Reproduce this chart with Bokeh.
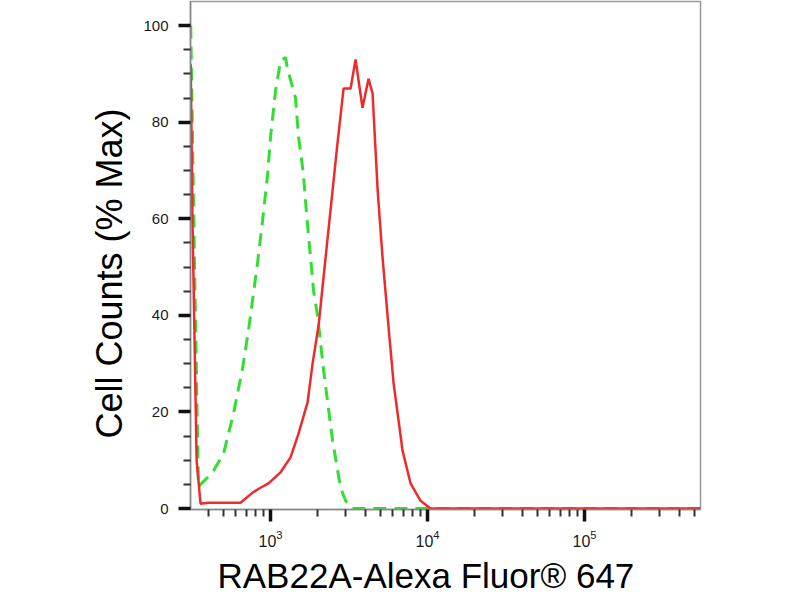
#Flow cytometry histogram: RAB22A-Alexa Fluor 647 vs isotype control

#Importing the required packages

from bokeh.plotting import figure
from bokeh.models import Range1d, FixedTicker, Title
from bokeh.embed import file_html
from bokeh.resources import INLINE

#Data (fluorescence intensity, % of max)

red_x = [310, 318, 338, 358, 403, 644, 768, 863, 971, 1158, 1341, 1507, 1721, 1852, 2024, 2177,
         2485, 2675, 2919, 3234, 3478, 3852, 4209, 4464, 4808, 5168, 5645, 6074, 6931, 7798,
         9024, 10440, 30000, 100000, 548000]
red_y = [92, 60, 10, 1, 1.2, 1.2, 3.3, 4.3, 5.2, 7.5, 10.6, 15.5, 22, 30, 38, 48,
         66, 76, 87, 87, 93, 83, 89, 86, 66, 52, 37.5, 26, 12, 5.2,
         1.6, 0, 0, 0, 0]

green_x = [310, 328, 347, 358, 428, 502, 581, 663, 724, 827, 889, 957, 1000, 1076, 1158, 1246,
           1283, 1442, 1507, 1622, 1695, 1798, 1880, 1992, 2177, 2485, 2793, 3006, 3327,
           10000, 548000]
green_y = [100, 50, 4.5, 5, 7.5, 11.4, 19.7, 29, 37, 51, 59.6, 69, 77, 86.5, 92.7, 93.4,
           91, 85, 77, 69, 61, 52, 45, 40, 28.6, 14, 4.3, 1.6, 0,
           0, 0]

y_ticks = [0, 20, 40, 60, 80, 100]
x_ticks = [1000, 10000, 100000]

x_label = "RAB22A-Alexa Fluor\u00ae 647"
y_label = "Cell Counts (% Max)"

#Creating the figure

p = figure(width=800, height=600, title=None, x_axis_type="log",
           x_range=Range1d(309, 548000), y_range=Range1d(-0.2, 105),
           output_backend="svg", toolbar_location=None,
           min_border_left=190, min_border_right=100, min_border_top=1, min_border_bottom=91)

p.xgrid.visible = False
p.ygrid.visible = False
p.outline_line_color = "#999999"
p.outline_line_width = 1.5

#Histogram lines: isotype (green dashed) under the antibody (red)

p.line(green_x, green_y, line_color="#33dd33", line_width=3, line_dash="13 8")
p.line(red_x, red_y, line_color="#ee2b2b", line_width=2.5)

#Axes

minor_x = [m * 10 ** e for e in (2, 3, 4, 5) for m in range(2, 10)]
p.xaxis.ticker = FixedTicker(ticks=x_ticks, minor_ticks=minor_x)
p.xaxis.major_label_text_align = "left"

minor_y = [v for v in range(0, 101, 5) if v not in y_ticks]
p.yaxis.ticker = FixedTicker(ticks=y_ticks, minor_ticks=minor_y)

for ax in (p.xaxis, p.yaxis):
    ax.axis_line_color = "#888888"
    ax.axis_line_width = 1.5
    ax.major_tick_line_color = "#111111"
    ax.major_tick_line_width = 3.5
    ax.major_tick_in = 0
    ax.major_tick_out = 12
    ax.minor_tick_line_color = "#333333"
    ax.minor_tick_line_width = 2
    ax.minor_tick_in = 0
    ax.minor_tick_out = 7
    ax.major_label_text_font = "Liberation Sans"
    ax.major_label_text_color = "#1a1a1a"
    ax.major_label_standoff = 10

p.yaxis.major_label_text_font_size = "15px"
p.xaxis.major_label_text_font_size = "16px"
p.xaxis.major_label_standoff = 8

#Axis titles

p.add_layout(Title(text=x_label, align="left", offset=27, standoff=8,
                   text_font="Liberation Sans", text_font_size="35px",
                   text_font_style="normal", text_color="black"), "below")
p.add_layout(Title(text=y_label, align="left", offset=71, standoff=22,
                   text_font="Liberation Sans", text_font_size="36px",
                   text_font_style="normal", text_color="black"), "left")

#Output the plot

open("out.html", "w").write(file_html(p, INLINE))
